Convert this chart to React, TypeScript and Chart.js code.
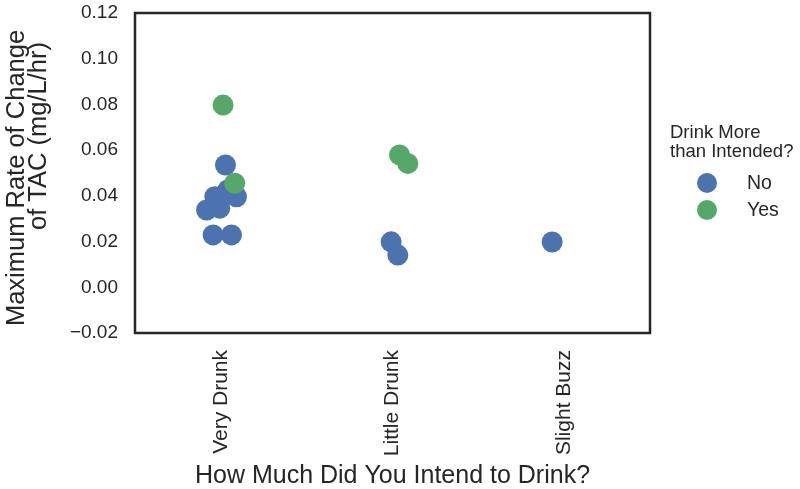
import React, { useEffect, useRef } from 'react';
import { Chart, registerables } from 'chart.js';

Chart.register(...registerables);

const categories = ['Very Drunk', 'Little Drunk', 'Slight Buzz'];
const yTicks = [-0.02, 0, 0.02, 0.04, 0.06, 0.08, 0.1, 0.12];
const seriesLabels = ['No', 'Yes'];
const legendTitle = ['Drink More', 'than Intended?'];
const yTitleLines = ['Maximum Rate of Change', 'of TAC (mg/L/hr)'];
const xTitle = 'How Much Did You Intend to Drink?';

// "No" series (category index, strip jitter, value)
const noCat = [0, 0, 0, 0, 0, 0, 0, 0, 1, 1, 2];
const noJitter = [0.027, 0.091, -0.035, -0.083, -0.006, 0.041, -0.045, 0.062, -0.008, 0.031, -0.07];
const noValues = [0.0535, 0.0396, 0.0396, 0.0338, 0.0346, 0.0426, 0.0229, 0.0229, 0.0199, 0.0141, 0.0198];

// "Yes" series
const yesCat = [0, 0, 1, 1];
const yesJitter = [0.013, 0.081, 0.041, 0.089];
const yesValues = [0.0797, 0.0455, 0.0579, 0.0542];

const BLUE = '#4C72B0';
const GREEN = '#55A868';
const TEXT = '#262626';
const FONT = '"Liberation Sans", Arial, sans-serif';

const toPoints = (cat: number[], jit: number[], vals: number[]) =>
  vals.map((v, i) => ({ x: cat[i] + jit[i], y: v }));

const decorPlugin = {
  id: 'decor',
  afterDraw(chart: any) {
    const { ctx, chartArea } = chart;
    const { left, right, top, bottom } = chartArea;
    ctx.save();
    // frame
    ctx.strokeStyle = TEXT;
    ctx.lineWidth = 2.5;
    ctx.strokeRect(left, top, right - left, bottom - top);

    // y title (two lines, rotated)
    ctx.fillStyle = TEXT;
    ctx.font = `25.5px ${FONT}`;
    ctx.textAlign = 'center';
    ctx.textBaseline = 'alphabetic';
    const yCenters = [178, 136];
    const xBases = [24, 46];
    yTitleLines.forEach((line, i) => {
      ctx.save();
      ctx.translate(xBases[i], yCenters[i]);
      ctx.rotate(-Math.PI / 2);
      ctx.fillText(line, 0, 0);
      ctx.restore();
    });

    // legend
    const lx = right + 20;
    ctx.textAlign = 'left';
    ctx.textBaseline = 'middle';
    ctx.font = `18.5px ${FONT}`;
    ctx.fillText(legendTitle[0], lx, 133);
    ctx.fillText(legendTitle[1], lx, 152);
    const colors = [BLUE, GREEN];
    const rowsY = [183, 210];
    seriesLabels.forEach((lab, i) => {
      ctx.beginPath();
      ctx.fillStyle = colors[i];
      ctx.arc(right + 57, rowsY[i], 10, 0, Math.PI * 2);
      ctx.fill();
      ctx.fillStyle = TEXT;
      ctx.font = `19.5px ${FONT}`;
      ctx.fillText(lab, right + 97, rowsY[i] + 1);
    });
    ctx.restore();
  },
};

export default function App() {
  const canvasRef = useRef<HTMLCanvasElement | null>(null);

  useEffect(() => {
    const canvas = canvasRef.current;
    if (!canvas) return;
    const chart = new Chart(canvas, {
      type: 'scatter',
      data: {
        datasets: [
          {
            label: seriesLabels[0],
            data: toPoints(noCat, noJitter, noValues),
            backgroundColor: BLUE,
            borderWidth: 0,
            pointRadius: 10.5,
            order: 1,
          },
          {
            label: seriesLabels[1],
            data: toPoints(yesCat, yesJitter, yesValues),
            backgroundColor: GREEN,
            borderWidth: 0,
            pointRadius: 10.5,
            order: 0,
          },
        ],
      },
      options: {
        animation: false,
        responsive: false,
        devicePixelRatio: 1,
        layout: { padding: { left: 0, right: 150, top: 13, bottom: 0 } },
        plugins: {
          legend: { display: false },
          tooltip: { enabled: false },
        },
        scales: {
          x: {
            type: 'linear',
            min: -0.5,
            max: 2.5,
            grid: { display: false, drawTicks: false },
            border: { display: false },
            afterBuildTicks: (scale: any) => {
              scale.ticks = categories.map((_, i) => ({ value: i }));
            },
            afterFit: (scale: any) => {
              scale.height = 156;
              scale.paddingLeft = 0;
              scale.paddingRight = 0;
            },
            ticks: {
              color: TEXT,
              font: { family: FONT, size: 21 },
              padding: 17,
              minRotation: 90,
              maxRotation: 90,
              autoSkip: false,
              callback: (v: any) => categories[Math.round(Number(v))] ?? '',
            },
            title: {
              display: true,
              text: xTitle,
              color: TEXT,
              font: { family: FONT, size: 25, lineHeight: 1 },
              padding: { top: 0, bottom: 0 },
            },
          },
          y: {
            type: 'linear',
            min: yTicks[0],
            max: yTicks[yTicks.length - 1],
            grid: { display: false, drawTicks: false },
            border: { display: false },
            afterBuildTicks: (scale: any) => {
              scale.ticks = yTicks.map((v) => ({ value: v }));
            },
            afterFit: (scale: any) => {
              scale.width = 135;
              scale.paddingTop = 0;
              scale.paddingBottom = 0;
            },
            ticks: {
              color: TEXT,
              font: { family: FONT, size: 19 },
              padding: 17,
              callback: (v: any) => Number(v).toFixed(2).replace('-', '\u2212'),
            },
          },
        },
      },
      plugins: [decorPlugin],
    });
    return () => chart.destroy();
  }, []);

  return (
    <div style={{ position: 'absolute', left: 0, top: 0, width: 800, height: 489, background: '#fff' }}>
      <canvas ref={canvasRef} width={800} height={489} style={{ display: 'block' }} />
    </div>
  );
}
